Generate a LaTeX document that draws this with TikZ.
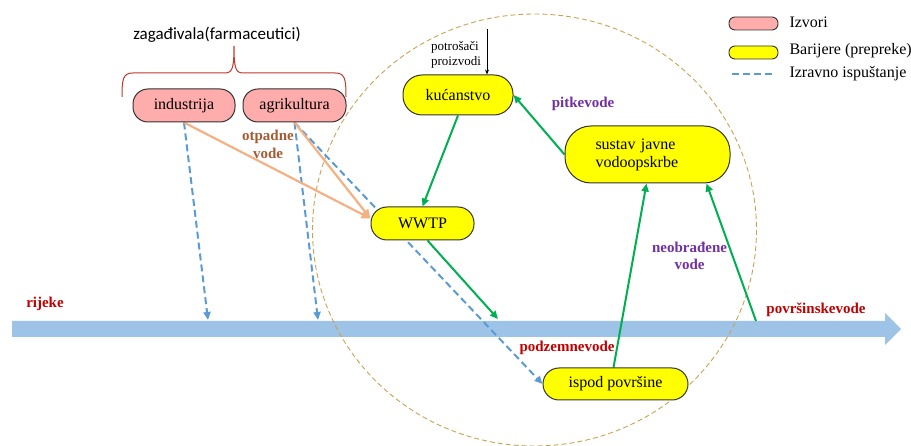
\documentclass[tikz,border=0pt]{standalone}
\usepackage{fontspec}
\setmainfont{Liberation Serif}
\newfontfamily\serifni{Liberation Serif}
\newfontfamily\calibrifont{Carlito}
\usepackage{tikz}
\usetikzlibrary{positioning,arrows.meta,backgrounds}

\definecolor{bojaZuta}{HTML}{FFFF00}
\definecolor{izvorBoja}{HTML}{FFACAC}
\definecolor{bojaZelena}{HTML}{00B050}
\definecolor{bojaNaranca}{HTML}{F4B183}
\definecolor{bojaPlava}{HTML}{5B9BD5}
\definecolor{bojaRijeka}{HTML}{9DC3E6}
\definecolor{bojaElipsa}{HTML}{C9A352}
\definecolor{bojaCrvena}{HTML}{C00000}
\definecolor{bojaLjubicasta}{HTML}{7030A0}
\definecolor{bojaSmeda}{HTML}{A65A32}
\definecolor{bojaZagrada}{HTML}{C0392B}

\begin{document}
\begin{tikzpicture}[x=1pt, y=-1pt,
    izvor/.style={draw=black!80, line width=1pt, rounded corners=15pt, fill=izvorBoja, minimum height=33pt, font=\serifni\fontsize{16}{18}\selectfont},
    barijera/.style={draw=black!80, line width=1pt, rounded corners=16pt, fill=bojaZuta, minimum height=33pt, align=center, font=\serifni\fontsize{16}{18}\selectfont},
    oznaka/.style={font=\serifni\fontsize{15}{17}\selectfont\bfseries, align=center},
    tok/.style={draw=bojaZelena, line width=2pt, -{Triangle[length=8pt,width=7pt]}},
    otpad/.style={draw=bojaNaranca, line width=2.2pt, -{Triangle[length=9pt,width=8pt]}},
    izravno/.style={draw=bojaPlava, line width=2pt, dash pattern=on 7pt off 4pt, -{Triangle[length=8pt,width=7pt]}},
    legenda/.style={anchor=west, font=\serifni\fontsize{16}{18}\selectfont}]
    \useasboundingbox (0,0) rectangle (911,446);

    \node (industrija) [izvor, minimum width=102pt] at (184,105.5) {industrija};
    \node (agrikultura) [izvor, minimum width=103pt] at (294.5,105.5) {agrikultura};
    \node (zagadivala) [font=\calibrifont\fontsize{17}{19}\selectfont] at (217,35) {zagađivala(farmaceutici)};

    \node (kucanstvo) [barijera, minimum width=110pt, minimum height=40pt, rounded corners=19pt] at (458,95) {kućanstvo};
    \node (wwtp) [barijera, minimum width=103pt] at (422.5,223.5) {WWTP};
    \node (sustav) [barijera, minimum width=165pt, minimum height=57pt, rounded corners=26pt, text width=104pt, align=left] at (647.5,154.5) {sustav javne\\vodoopskrbe};
    \node (ispod) [barijera, minimum width=145pt, minimum height=32pt] at (615.5,384) {ispod površine};

    \node (potrosaci) [font=\serifni\fontsize{13}{15}\selectfont, align=left, inner sep=0pt] at (456,54.5) {potrošači\\proizvodi};
    \node (otpadne) [oznaka, text=bojaSmeda, font=\serifni\fontsize{15}{18}\selectfont\bfseries] at (268,144) {otpadne\\vode};
    \node (pitke) [oznaka, text=bojaLjubicasta] at (583,104) {pitkevode};
    \node (neobradene) [oznaka, text=bojaLjubicasta] at (689.5,255.5) {neobrađene\\vode};
    \node (rijeke) [oznaka, text=bojaCrvena] at (45,304) {rijeke};
    \node (povrsinske) [oznaka, text=bojaCrvena] at (816,310) {površinskevode};
    \node (podzemne) [oznaka, text=bojaCrvena] at (567,348) {podzemnevode};

    \node (legIzvori) [izvor, minimum width=49pt, minimum height=13pt, rounded corners=6pt, inner sep=0pt, line width=0.9pt] at (753.5,23.5) {};
    \node (legBarijere) [barijera, minimum width=49pt, minimum height=13pt, rounded corners=6pt, inner sep=0pt, line width=0.9pt] at (753.5,52.5) {};
    \coordinate (legCrtaA) at (732,74);
    \coordinate (legCrtaB) at (773,74);
    \node (txtIzvori) [legenda] at (786,22) {Izvori};
    \node (txtBarijere) [legenda] at (786,51) {Barijere (prepreke)};
    \node (txtIzravno) [legenda] at (786,74) {Izravno ispuštanje};

    \coordinate (rijeka1) at (208,320);
    \coordinate (rijeka2) at (318,320);
    \coordinate (rijeka3) at (498,319);
    \coordinate (rijeka4) at (756,321);
    \coordinate (proizvodi) at (487,29);

    \begin{pgfonlayer}{background}
        \fill[bojaRijeka] (12,321) -- (885,321) -- (885,313) -- (901,329) -- (885,345) -- (885,337) -- (12,337) -- cycle;
        \draw[bojaElipsa, line width=0.9pt, dash pattern=on 5pt off 3pt] (534.5,230) ellipse [x radius=222, y radius=216];

        \draw[bojaZagrada, line width=1pt] (122,97) .. controls (122,79) and (123,73) .. (133,73) -- (224,73) .. controls (232,73) and (234,70) .. (234,46) .. controls (234,70) and (236,73) .. (244,73) -- (335,73) .. controls (345,73) and (346,79) .. (346,97);

        \draw[izravno] (industrija.south) -- (rijeka1);
        \draw[izravno] (agrikultura.south) -- (rijeka2);
        \draw[izravno] (agrikultura.south) -- (ispod.west);
        \draw[otpad] (industrija.south) -- ([yshift=5pt]wwtp.west);
        \draw[otpad] (agrikultura.south) -- ([yshift=5pt]wwtp.west);

        \draw[tok] (kucanstvo.south) -- (wwtp.north);
        \draw[tok] ([xshift=5pt]wwtp.south) -- (rijeka3);
        \draw[tok] ([xshift=-2pt]ispod.north) -- ([xshift=-1pt]sustav.south);
        \draw[tok] (rijeka4) -- ([xshift=-24pt]sustav.south east);
        \draw[tok] (sustav.west) -- (kucanstvo.east);
        \draw[-{Stealth[length=5pt,width=4pt]}, line width=0.8pt] (proizvodi) -- ([xshift=29pt]kucanstvo.north);

        \draw[bojaPlava, line width=2pt, dash pattern=on 7pt off 4pt] (legCrtaA) -- (legCrtaB);
    \end{pgfonlayer}
\end{tikzpicture}
\end{document}
